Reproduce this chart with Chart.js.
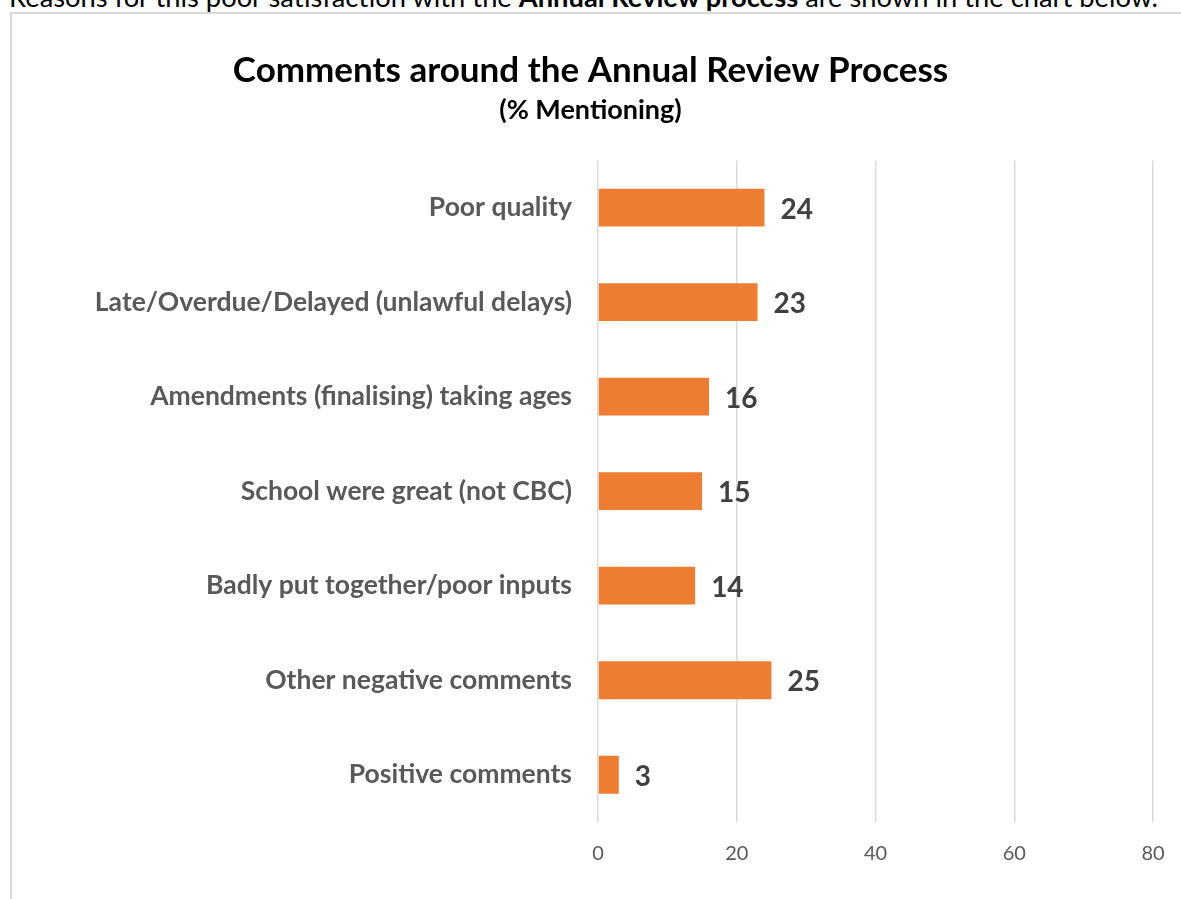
<!DOCTYPE html>
<html>
<head>
<meta charset="utf-8">
<script src="https://cdn.jsdelivr.net/npm/chart.js@4/dist/chart.umd.min.js"></script>
<style>
  html, body { margin: 0; padding: 0; background: #fff; overflow: hidden; width: 1181px; height: 899px; }
  #intro { position: absolute; left: 9px; top: -17px; font-family: Lato, "Open Sans", sans-serif; font-size: 27.3px; line-height: 27px; color: #000; white-space: nowrap; }
  #frame { position: absolute; left: 10px; top: 12px; width: 1300px; height: 1000px; border-left: 2px solid #d9d9d9; border-top: 2px solid #d9d9d9; }
  #c { position: absolute; left: 12px; top: 14px; }
</style>
</head>
<body>
<div id="intro">Reasons for this poor satisfaction with the <b>Annual Review process</b> are shown in the chart below.</div>
<div id="frame"></div>
<canvas id="c" width="1169" height="885"></canvas>
<script>
const categories = [
  "Poor quality",
  "Late/Overdue/Delayed (unlawful delays)",
  "Amendments (finalising) taking ages",
  "School were great (not CBC)",
  "Badly put together/poor inputs",
  "Other negative comments",
  "Positive comments"
];
const mentioning = [24, 23, 16, 15, 14, 25, 3];
const tickValues = [0, 20, 40, 60, 80];
const chartTitle = "Comments around the Annual Review Process";
const chartSubtitle = "(% Mentioning)";

const FONT = "Lato, 'Open Sans', sans-serif";

const valueLabels = {
  id: 'valueLabels',
  afterDatasetsDraw(chart) {
    const ctx = chart.ctx;
    const meta = chart.getDatasetMeta(0);
    ctx.save();
    ctx.font = "bold 28px " + FONT;
    ctx.fillStyle = "#404040";
    ctx.textAlign = "left";
    ctx.textBaseline = "middle";
    meta.data.forEach((bar, i) => {
      ctx.fillText(String(mentioning[i]), bar.x + 16, bar.y + 2);
    });
    ctx.restore();
  }
};

new Chart(document.getElementById('c'), {
  type: 'bar',
  data: {
    labels: categories,
    datasets: [{
      data: mentioning,
      backgroundColor: '#ED7D31',
      borderWidth: 0,
      barPercentage: 0.4,
      categoryPercentage: 1.0
    }]
  },
  options: {
    indexAxis: 'y',
    responsive: false,
    devicePixelRatio: 1,
    animation: false,
    layout: { padding: { left: 0, right: 12, top: 30, bottom: 0 } },
    plugins: {
      legend: { display: false },
      tooltip: { enabled: false },
      title: {
        display: true,
        text: chartTitle,
        color: '#000',
        font: { family: FONT, size: 35, weight: 'bold', lineHeight: 1.2 },
        padding: { top: 6, bottom: 2 }
      },
      subtitle: {
        display: true,
        text: chartSubtitle,
        color: '#000',
        font: { family: FONT, size: 27, weight: 'bold', lineHeight: 1.2 },
        padding: { top: 0, bottom: 34 }
      }
    },
    scales: {
      x: {
        min: 0,
        max: 80,
        afterBuildTicks(scale) { scale.ticks = tickValues.map(v => ({ value: v })); },
        grid: { color: '#d9d9d9', lineWidth: 1.5, drawTicks: false },
        border: { display: false },
        ticks: { color: '#595959', font: { family: FONT, size: 20 }, padding: 20 },
        afterFit(scale) { scale.height = 77; scale.paddingRight = 28; scale.paddingLeft = 0; }
      },
      y: {
        grid: { display: false, drawTicks: false },
        border: { display: false },
        ticks: { color: '#595959', font: { family: FONT, size: 26.5, weight: 'bold' }, padding: 26 },
        afterFit(scale) { scale.width = 586; }
      }
    }
  },
  plugins: [valueLabels]
});
</script>
</body>
</html>
